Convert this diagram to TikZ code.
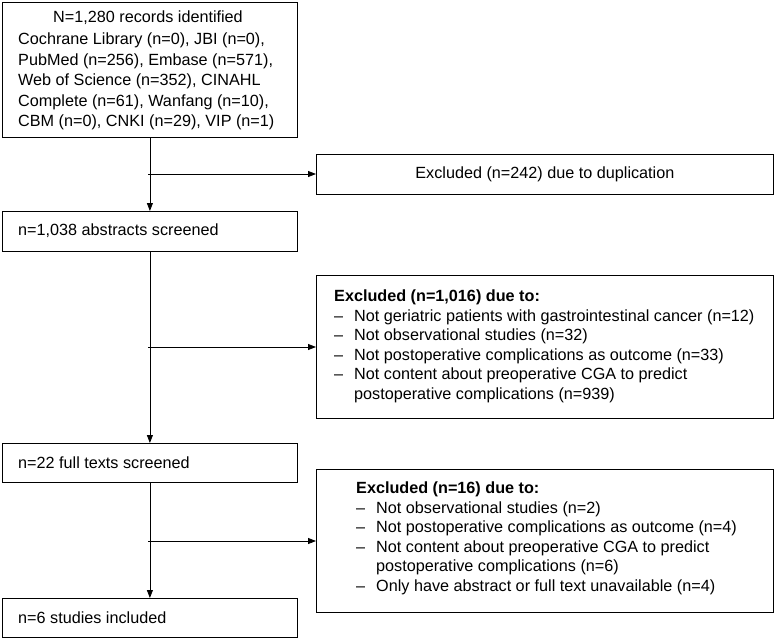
\documentclass[tikz,border=0pt]{standalone}
\usepackage{fontspec}
\setmainfont{Liberation Sans}
\usetikzlibrary{arrows.meta}
\newcommand{\itm}{\makebox[20pt][l]{--}}
\newcommand{\ind}{\hspace*{20pt}}
\begin{document}
\begin{tikzpicture}[x=1pt,y=-1pt,
  box/.style={draw,line width=0.8pt,anchor=north west,inner sep=0pt},
  txt/.style={font=\fontsize{16.2}{19.5}\selectfont,inner sep=0pt},
  arr/.style={-{Triangle[length=8pt,width=6pt]},line width=0.8pt},
  ln/.style={line width=0.8pt}]
\useasboundingbox (0,0) rectangle (775,639);
\node[box,minimum width=295pt,minimum height=135pt] (b1) at (2,2) {};
\node[txt,anchor=base] (t1) at (148,23) {N=1,280 records identified};
\node[txt,anchor=north west,align=left,font=\fontsize{16.2}{20.4}\selectfont] (t1b) at (18,33) {Cochrane Library (n=0), JBI (n=0),\\PubMed (n=256), Embase (n=571),\\Web of Science (n=352), CINAHL\\Complete (n=61), Wanfang (n=10),\\CBM (n=0), CNKI (n=29), VIP (n=1)};
\node[box,minimum width=457pt,minimum height=40pt] (e1) at (316,154) {};
\node[txt] (te1) at (e1.center) {Excluded (n=242) due to duplication};
\node[box,minimum width=295pt,minimum height=40pt] (b2) at (2,211) {};
\node[txt,anchor=west] (tb2) at (18,231) {n=1,038 abstracts screened};
\node[box,minimum width=457pt,minimum height=143pt] (e2) at (316,275) {};
\node[txt,anchor=north west,align=left] (te2) at (334,290) {\textbf{Excluded (n=1,016) due to:}\\\itm Not geriatric patients with gastrointestinal cancer (n=12)\\\itm Not observational studies (n=32)\\\itm Not postoperative complications as outcome (n=33)\\\itm Not content about preoperative CGA to predict\\\ind postoperative complications (n=939)};
\node[box,minimum width=295pt,minimum height=39pt] (b3) at (2,443) {};
\node[txt,anchor=west] (tb3) at (18,462.5) {n=22 full texts screened};
\node[box,minimum width=457pt,minimum height=143pt] (e3) at (316,469) {};
\node[txt,anchor=north west,align=left] (te3) at (356,482) {\textbf{Excluded (n=16) due to:}\\\itm Not observational studies (n=2)\\\itm Not postoperative complications as outcome (n=4)\\\itm Not content about preoperative CGA to predict\\\ind postoperative complications (n=6)\\\itm Only have abstract or full text unavailable (n=4)};
\node[box,minimum width=295pt,minimum height=39pt] (b4) at (2,598) {};
\node[txt,anchor=west] (tb4) at (18,617.5) {n=6 studies included};
\coordinate (j1) at (148,174);
\coordinate (j2) at (148,347);
\coordinate (j3) at (148,541);
\draw[arr] (b1.south) -- (b2.north);
\draw[arr] (b2.south) -- (b3.north);
\draw[arr] (b3.south) -- (b4.north);
\draw[arr] (j1) -- (e1.west |- j1);
\draw[arr] (j2) -- (e2.west |- j2);
\draw[arr] (j3) -- (e3.west |- j3);
\end{tikzpicture}
\end{document}
